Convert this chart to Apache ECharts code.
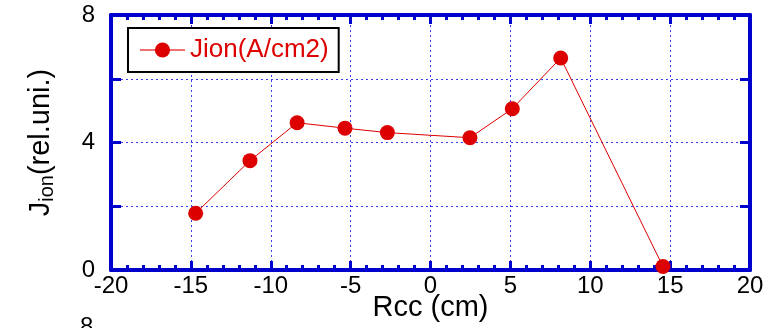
<!DOCTYPE html>
<html>
<head>
<meta charset="utf-8">
<script src="https://cdn.jsdelivr.net/npm/echarts@6/dist/echarts.min.js"></script>
<style>
html,body{margin:0;padding:0;background:#fff;}
#chart{width:775px;height:328px;}
</style>
</head>
<body>
<div id="chart"></div>
<script>
var rccValues = [-14.7, -11.3, -8.35, -5.35, -2.7, 2.47, 5.12, 8.15, 14.55];
var jionValues = [1.78, 3.43, 4.62, 4.45, 4.31, 4.15, 5.06, 6.65, 0.11];
var seriesName = 'Jion(A/cm2)';
var xTitle = 'Rcc (cm)';
var yLabelsShown = [0, 4, 8];

var blue = '#0000cc';
var gridBlue = '#3a3aee';
var red = '#dd0000';

var chart = echarts.init(document.getElementById('chart'), null, {renderer: 'canvas'});

var pts = rccValues.map(function (x, i) { return [x, jionValues[i]]; });

var font = 'Liberation Sans, Arial, sans-serif';

chart.setOption({
  animation: false,
  backgroundColor: '#ffffff',
  textStyle: {fontFamily: font},
  grid: {left: 111, right: 25, top: 15, bottom: 58, containLabel: false, outerBoundsMode: 'none'},
  legend: {
    show: true,
    left: 128,
    top: 28,
    orient: 'horizontal',
    backgroundColor: '#ffffff',
    borderColor: '#000000',
    borderWidth: 2,
    borderRadius: 0,
    padding: [9, 10, 9, 11],
    itemWidth: 45,
    itemHeight: 19,
    itemGap: 6,
    lineStyle: {color: '#ee7070', width: 2},
    textStyle: {color: red, fontSize: 26, fontFamily: font},
    data: [seriesName]
  },
  xAxis: [{
    type: 'value',
    position: 'bottom',
    min: -20, max: 20, interval: 5,
    axisLine: {show: true, onZero: false, lineStyle: {color: blue, width: 4}},
    axisTick: {show: true, inside: true, length: 9, lineStyle: {color: blue, width: 3}},
    minorTick: {show: true, splitNumber: 5, length: 5, lineStyle: {color: blue, width: 3}},
    splitLine: {show: true, lineStyle: {color: gridBlue, width: 1, type: [2, 3]}},
    axisLabel: {color: '#000', fontSize: 24, fontFamily: font, margin: 4},
    name: xTitle,
    nameLocation: 'middle',
    nameGap: 23,
    nameMoveOverlap: false,
    nameTextStyle: {color: '#000', fontSize: 29, fontFamily: font}
  }, {
    type: 'value',
    position: 'top',
    min: -20, max: 20, interval: 5,
    axisLine: {show: true, onZero: false, lineStyle: {color: blue, width: 4}},
    axisTick: {show: true, inside: true, length: 9, lineStyle: {color: blue, width: 3}},
    minorTick: {show: true, splitNumber: 5, length: 5, lineStyle: {color: blue, width: 3}},
    splitLine: {show: false},
    axisLabel: {show: false}
  }],
  yAxis: [{
    type: 'value',
    position: 'left',
    min: 0, max: 8, interval: 2,
    axisLine: {show: true, onZero: false, lineStyle: {color: blue, width: 4}},
    axisTick: {show: true, inside: true, length: 10, lineStyle: {color: blue, width: 3}},
    splitLine: {show: true, lineStyle: {color: gridBlue, width: 1, type: [2, 3]}},
    axisLabel: {
      color: '#000', fontSize: 24, fontFamily: font, margin: 16,
      formatter: function (v) { return yLabelsShown.indexOf(v) >= 0 ? String(v) : ''; }
    },
    name: 'J{sub|ion}(rel.uni.)',
    nameLocation: 'middle',
    nameGap: 54,
    nameRotate: 90,
    nameMoveOverlap: false,
    nameTextStyle: {
      color: '#000', fontSize: 29, fontFamily: font,
      rich: {sub: {fontSize: 20, fontFamily: font, color: '#000', padding: [12, 0, 0, 0]}}
    }
  }, {
    type: 'value',
    position: 'right',
    min: 0, max: 8, interval: 2,
    axisLine: {show: true, onZero: false, lineStyle: {color: blue, width: 4}},
    axisTick: {show: true, inside: true, length: 10, lineStyle: {color: blue, width: 3}},
    splitLine: {show: false},
    axisLabel: {show: false}
  }],
  graphic: [{
    type: 'text',
    left: 80,
    top: 315,
    style: {text: '8', fontSize: 24, fontFamily: font, fill: '#000'}
  }],
  series: [{
    name: seriesName,
    type: 'line',
    xAxisIndex: 0,
    yAxisIndex: 0,
    data: pts,
    symbol: 'circle',
    symbolSize: 15,
    color: red,
    itemStyle: {color: red},
    lineStyle: {color: red, width: 1},
    clip: false,
    z: 5
  }]
});
</script>
</body>
</html>
